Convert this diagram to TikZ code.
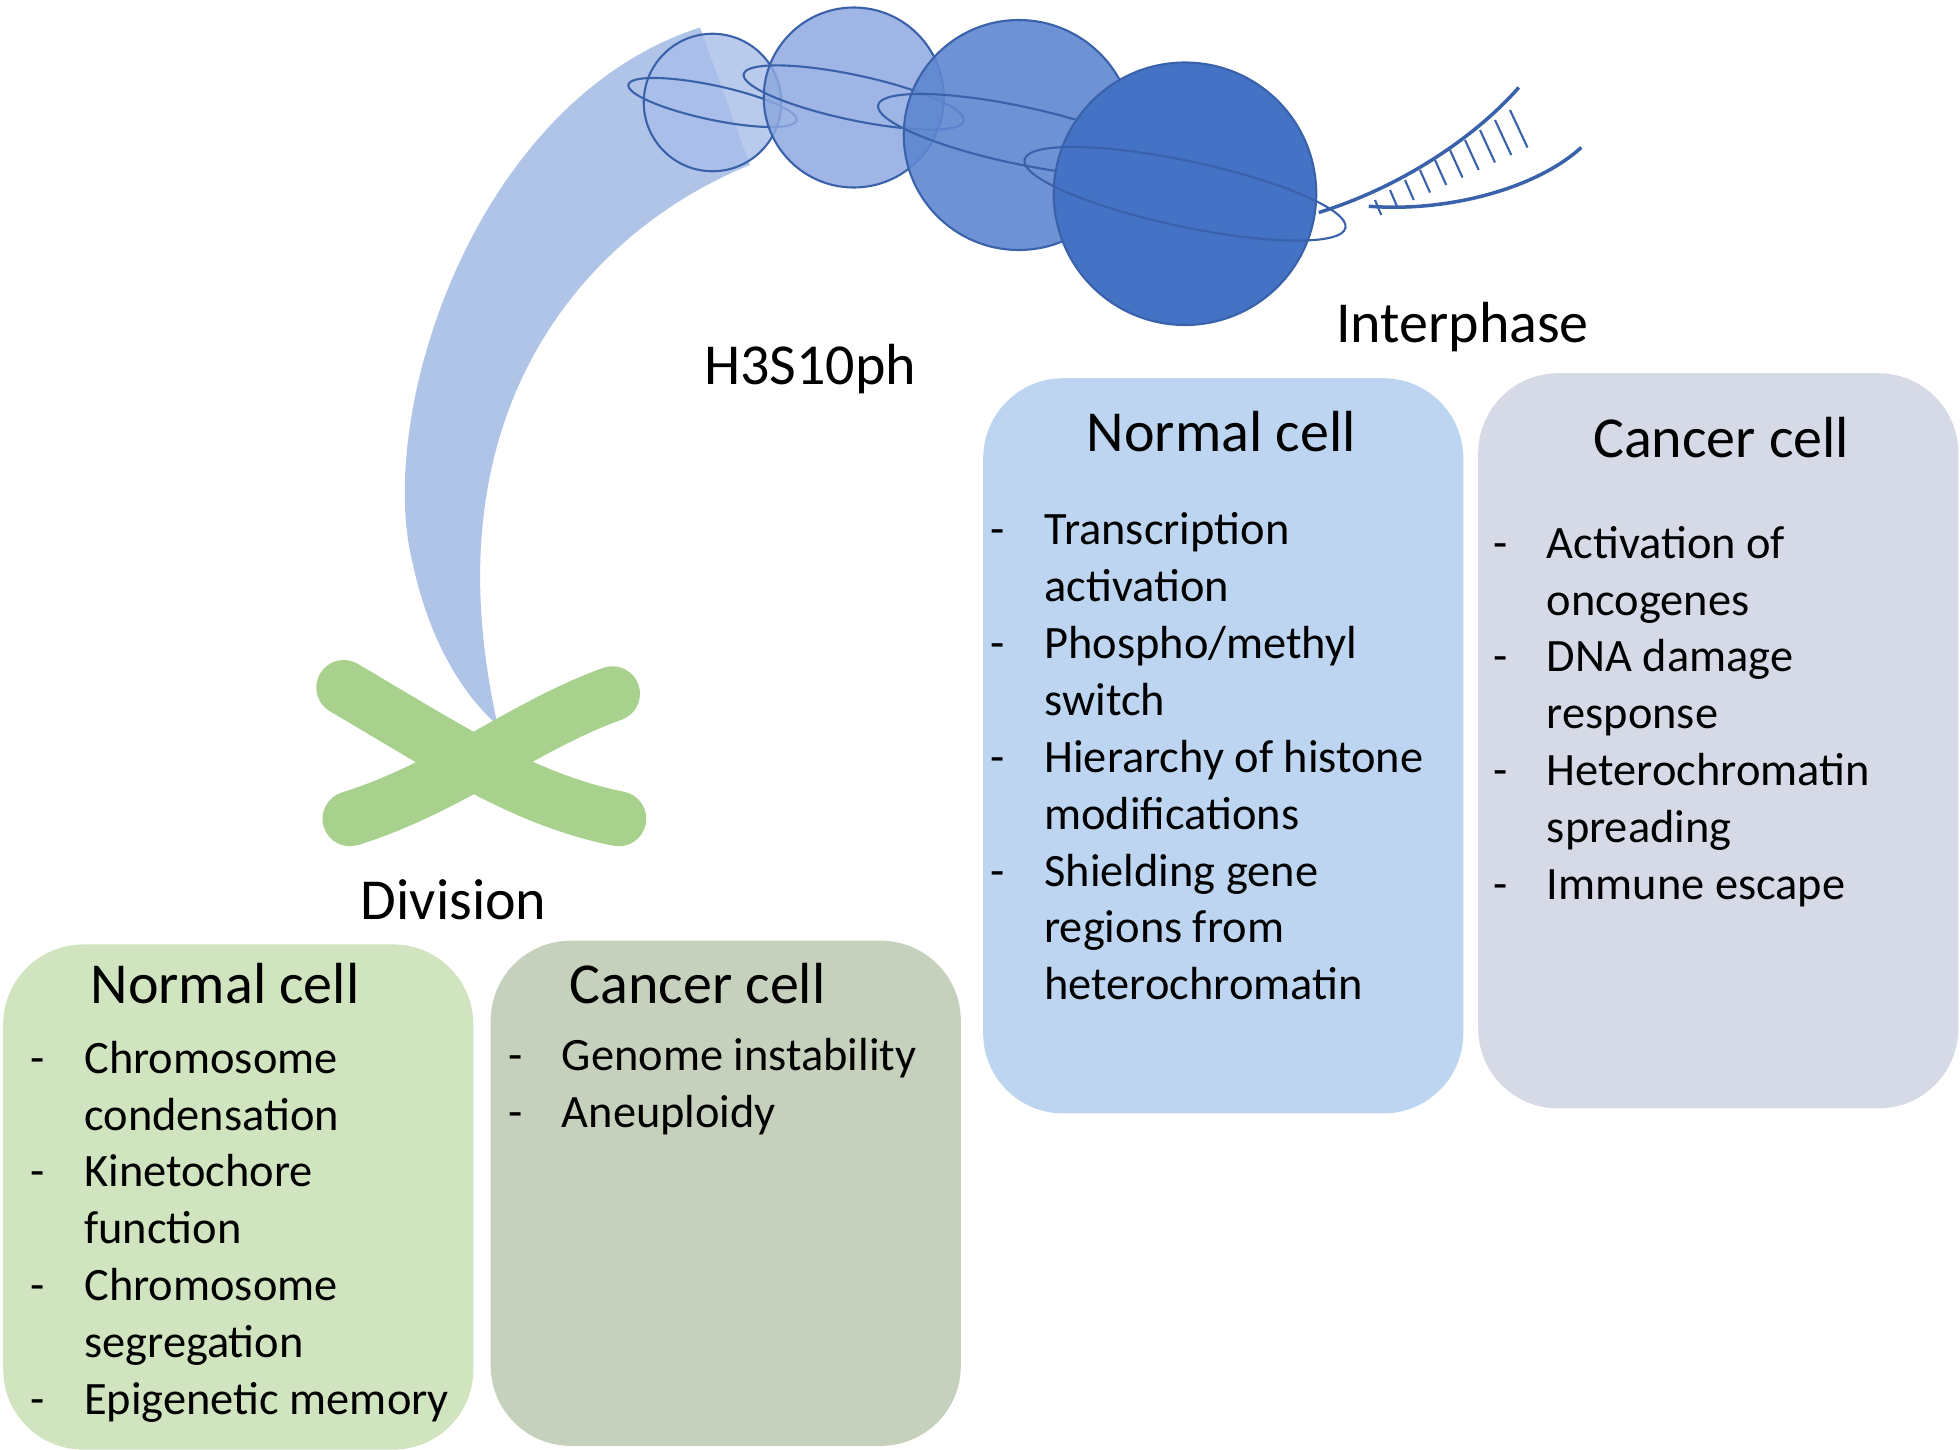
\documentclass[tikz,border=0pt]{standalone}
\usepackage{fontspec}
\setmainfont{Carlito}
\usetikzlibrary{positioning}
\definecolor{grnA}{HTML}{D0E4C0}
\definecolor{grnB}{HTML}{C5D1BD}
\definecolor{bluA}{HTML}{BDD5F0}
\definecolor{gryA}{HTML}{D5DAE6}
\definecolor{beam}{HTML}{B0C4E8}
\definecolor{chrom}{HTML}{A9D18E}
\definecolor{edge}{HTML}{3A62AA}
\newcommand{\lst}[1]{\begin{tabular}{@{}l@{\hspace{0.85em}}l@{}}#1\end{tabular}}
\newcommand{\itm}[1]{-{} & #1\\}
\newcommand{\cnt}[1]{ & #1\\}
\begin{document}
\begin{tikzpicture}[x=0.0125cm,y=-0.0125cm,
  box/.style={rounded corners=0.8cm,inner sep=0pt,anchor=north west},
  head/.style={font=\fontsize{16.5}{20}\selectfont},
  body/.style={font=\fontsize{13.2}{16.2}\selectfont,anchor=north west,inner sep=0pt,align=left},
  lbl/.style={font=\fontsize{16.5}{20}\selectfont},
  nuc/.style={draw=edge,line width=0.6pt}]
  \useasboundingbox (0,0) rectangle (1568,1160);
  % beam
  \fill[beam] (560,22) .. controls (380,80) and (300,330) .. (330,450)
    .. controls (345,520) and (375,560) .. (398,580)
    .. controls (385,520) and (370,420) .. (410,320)
    .. controls (450,220) and (530,160) .. (600,132) -- cycle;
  % nucleosomes
  \foreach \x/\y/\r/\c/\o in {570/82/55/A8BDE8/0.8,683/78/72/8DA8E0/0.85,815/108/92/5F86D0/0.9,948/155/105/4472C4/1}{
    \definecolor{tmp}{HTML}{\c}
    \fill[tmp,opacity=\o] (\x,\y) circle (\r);
    \draw[nuc] (\x,\y) circle (\r);
    \draw[edge,line width=0.6pt,rotate around={-12:(\x,\y)}] (\x,\y) ellipse ({\r*1.25} and {\r*0.25});
  }
  % DNA
  \draw[edge,line width=1pt] (1055,170) .. controls (1120,150) and (1180,110) .. (1215,70);
  \draw[edge,line width=1pt] (1095,165) .. controls (1160,170) and (1230,150) .. (1265,118);
  \foreach \t in {0,...,9}{
    \draw[edge,line width=0.6pt] ({1100+\t*12},{160-\t*8}) -- ({1105+\t*13},{172-\t*6});
  }
  % chromosome
  \draw[chrom,line width=0.55cm,line cap=round] (275,550) .. controls (360,600) and (420,640) .. (495,655);
  \draw[chrom,line width=0.55cm,line cap=round] (280,655) .. controls (360,630) and (420,580) .. (490,555);
  % labels
  \node[lbl] (h3) at (648,295) {H3S10ph};
  \node[lbl] (inter) at (1170,262) {Interphase};
  \node[lbl] (div) at (363,720) {Division};
  % boxes
  \node[box,fill=grnA,minimum width=4.7cm,minimum height=5.05cm] (ndiv) at (2,755) {};
  \node[box,fill=grnB,minimum width=4.7cm,minimum height=5.05cm] (cdiv) at (392,752) {};
  \node[box,fill=bluA,minimum width=4.8cm,minimum height=7.35cm] (nint) at (786,302) {};
  \node[box,fill=gryA,minimum width=4.8cm,minimum height=7.35cm] (cint) at (1182,298) {};
  \node[head] at (180,787) {Normal cell};
  \node[head] at (558,787) {Cancer cell};
  \node[head] at (977,345) {Normal cell};
  \node[head] at (1377,350) {Cancer cell};
  \node[body] (lndiv) at (24,826) {\lst{\itm{Chromosome}\cnt{condensation}\itm{Kinetochore}\cnt{function}\itm{Chromosome}\cnt{segregation}\itm{Epigenetic memory}}};
  \node[body] (lcdiv) at (406,824) {\lst{\itm{Genome instability}\itm{Aneuploidy}}};
  \node[body] (lnint) at (792,403) {\lst{\itm{Transcription}\cnt{activation}\itm{Phospho/methyl}\cnt{switch}\itm{Hierarchy of histone}\cnt{modifications}\itm{Shielding gene}\cnt{regions from}\cnt{heterochromatin}}};
  \node[body] (lcint) at (1194,414) {\lst{\itm{Activation of}\cnt{oncogenes}\itm{DNA damage}\cnt{response}\itm{Heterochromatin}\cnt{spreading}\itm{Immune escape}}};
\end{tikzpicture}
\end{document}
